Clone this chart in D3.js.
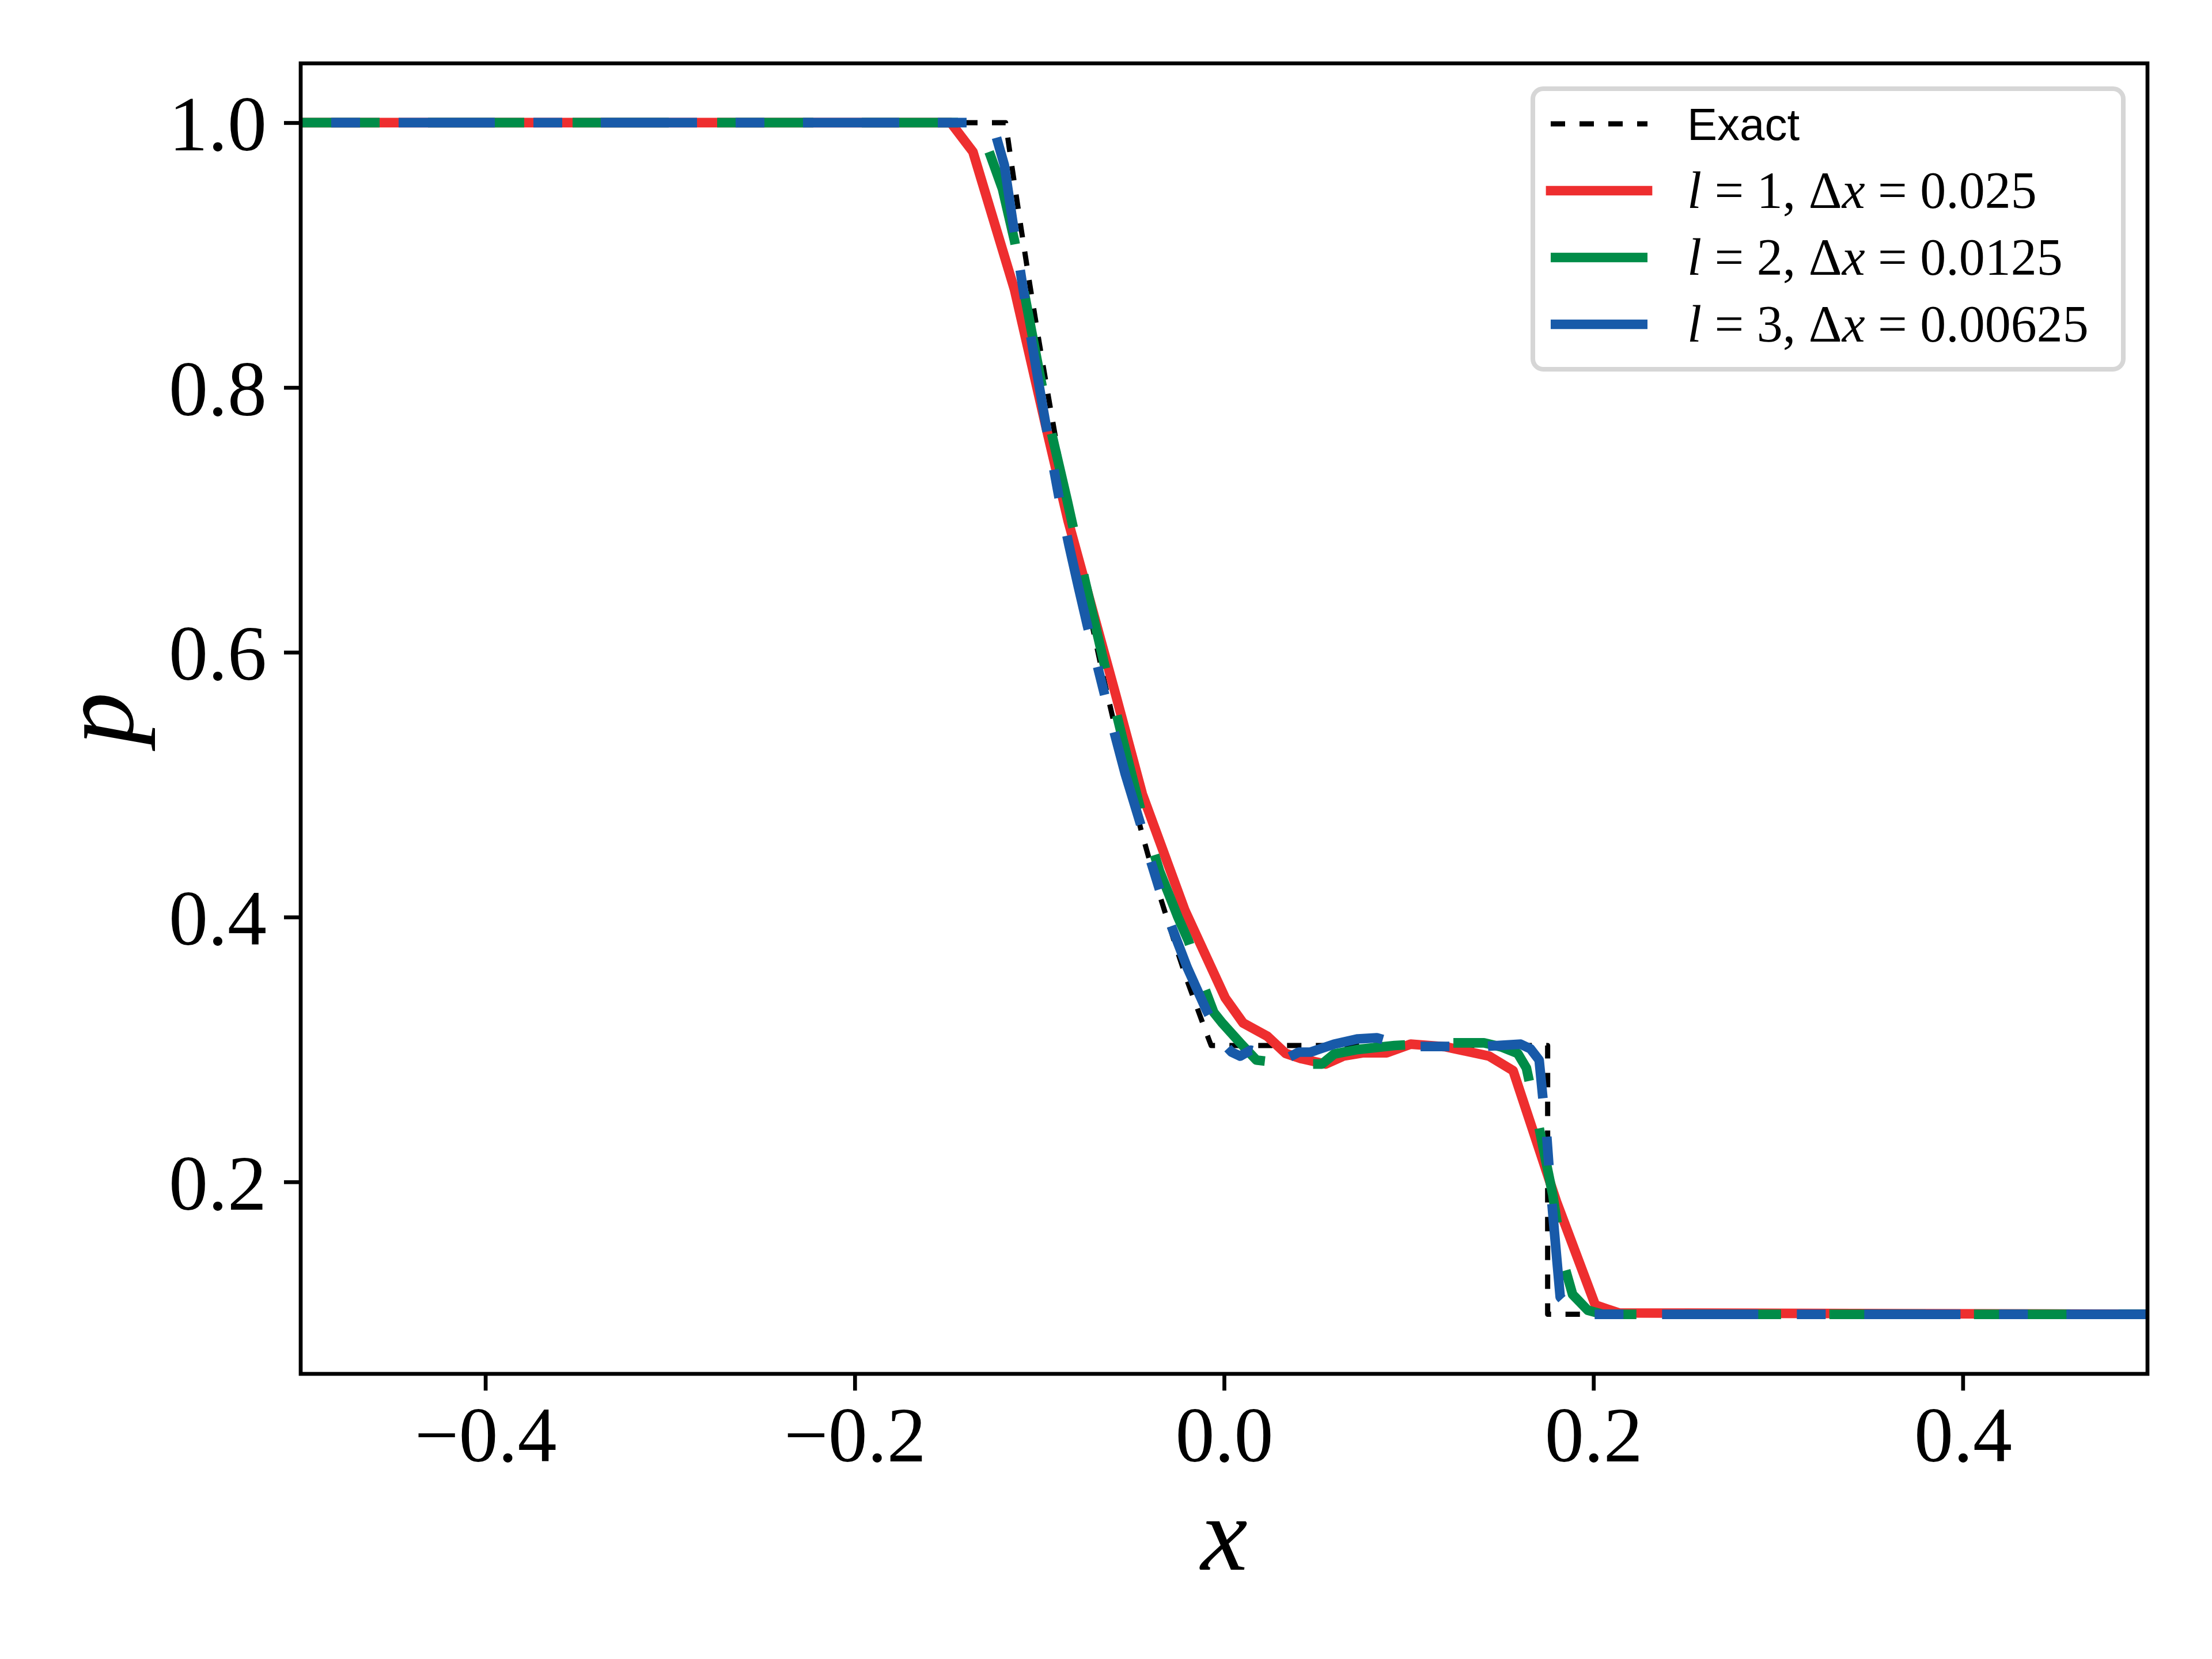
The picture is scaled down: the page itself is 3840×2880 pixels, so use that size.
<!DOCTYPE html>
<html>
<head>
<meta charset="utf-8">
<script src="https://cdn.jsdelivr.net/npm/d3@7"></script>
<style>
  body { margin: 0; background: #fff; }
  svg { display: block; }
  text { white-space: pre; }
</style>
</head>
<body>
<div id="chart"></div>
<script>
// --- data ---
const exactX = [-0.5, -0.1183, -0.115, -0.11, -0.105, -0.10, -0.095, -0.09, -0.085, -0.08, -0.075, -0.07, -0.065, -0.06, -0.055, -0.05, -0.045, -0.04, -0.035, -0.03, -0.025, -0.02, -0.015, -0.01, -0.007, 0.1752, 0.1752, 0.5];
const exactP = [1.0, 1.0, 0.968, 0.921, 0.876, 0.833, 0.792, 0.752, 0.714, 0.678, 0.644, 0.611, 0.579, 0.549, 0.520, 0.493, 0.466, 0.441, 0.417, 0.395, 0.373, 0.352, 0.333, 0.314, 0.303, 0.303, 0.1, 0.1];

const l1X = [-0.5, -0.148, -0.136, -0.1135, -0.0964, -0.0844, -0.0587, -0.0443, -0.0212, 0.0006, 0.0103, 0.0234, 0.0334, 0.042, 0.055, 0.0646, 0.0755, 0.088, 0.101, 0.120, 0.1435, 0.1565, 0.180, 0.201, 0.2137, 0.5];
const l1P = [1.0, 1.0, 0.978, 0.874, 0.770, 0.699, 0.568, 0.493, 0.405, 0.339, 0.320, 0.310, 0.297, 0.293, 0.289, 0.295, 0.2975, 0.2975, 0.304, 0.302, 0.295, 0.284, 0.185, 0.107, 0.101, 0.1];

const l2X = [-0.5, -0.136, -0.128, -0.120, -0.1135, -0.105, -0.095, -0.085, -0.075, -0.065, -0.055, -0.045, -0.035, -0.025, -0.0193, -0.0113, -0.0056, -0.001, 0.0087, 0.0175, 0.030, 0.0434, 0.053, 0.0596, 0.0724, 0.0923, 0.1186, 0.1407, 0.150, 0.159, 0.1637, 0.1694, 0.178, 0.1834, 0.1887, 0.197, 0.205, 0.5];
const l2P = [1.0, 1.0, 0.981, 0.950, 0.911, 0.848, 0.775, 0.715, 0.652, 0.592, 0.535, 0.480, 0.435, 0.400, 0.382, 0.349, 0.328, 0.320, 0.305, 0.292, 0.290, 0.289, 0.289, 0.2966, 0.300, 0.303, 0.305, 0.305, 0.302, 0.297, 0.286, 0.249, 0.19, 0.141, 0.115, 0.103, 0.100, 0.100];

const l3X = [-0.5, -0.128, -0.1235, -0.119, -0.114, -0.109, -0.104, -0.099, -0.094, -0.089, -0.084, -0.079, -0.074, -0.069, -0.064, -0.059, -0.0535, -0.0452, -0.0412, -0.035, -0.0296, -0.02, -0.0097, 0.0, 0.0041, 0.0087, 0.0144, 0.024, 0.0343, 0.0405, 0.0468, 0.0596, 0.0724, 0.0827, 0.095, 0.103, 0.1186, 0.140, 0.1606, 0.1659, 0.1706, 0.1725, 0.1747, 0.1765, 0.179, 0.182, 0.189, 0.197, 0.5];
const l3P = [1.0, 1.0, 0.990, 0.968, 0.921, 0.876, 0.833, 0.792, 0.752, 0.714, 0.681, 0.650, 0.620, 0.592, 0.564, 0.537, 0.508, 0.470, 0.449, 0.421, 0.397, 0.362, 0.330, 0.304, 0.298, 0.295, 0.2995, 0.296, 0.2936, 0.298, 0.298, 0.304, 0.308, 0.3088, 0.304, 0.3023, 0.3023, 0.3023, 0.304, 0.3005, 0.292, 0.265, 0.235, 0.20, 0.16, 0.113, 0.102, 0.100, 0.100];

const xTicks = [-0.4, -0.2, 0.0, 0.2, 0.4];
const yTicks = [0.2, 0.4, 0.6, 0.8, 1.0];
const levels = ['1', '2', '3'];
const spacings = ['0.025', '0.0125', '0.00625'];

// --- layout ---
const W = 3840, H = 2880;
const plot = { left: 522, right: 3728, top: 110, bottom: 2385 };
const serif = "'Liberation Serif', 'Times New Roman', serif";
const sans = "'Liberation Sans', Arial, sans-serif";

const svg = d3.select('#chart').append('svg')
  .attr('width', W).attr('height', H)
  .attr('viewBox', `0 0 ${W} ${H}`);

svg.append('rect').attr('width', W).attr('height', H).attr('fill', '#fff');

const x = d3.scaleLinear().domain([-0.5, 0.5]).range([plot.left, plot.right]);
const y = d3.scaleLinear().domain([0.055, 1.0448]).range([plot.bottom, plot.top]);

svg.append('clipPath').attr('id', 'clip')
  .append('rect')
  .attr('x', plot.left).attr('y', plot.top)
  .attr('width', plot.right - plot.left).attr('height', plot.bottom - plot.top);

const line = d3.line().x(d => x(d[0])).y(d => y(d[1]));

const series = [
  { xs: exactX, ps: exactP, color: '#000000', width: 9, dash: '25 25', offset: 0, cap: 'butt' },
  { xs: l1X, ps: l1P, color: '#ee2e2f', width: 16.7, dash: null, offset: 0, cap: 'square' },
  { xs: l2X, ps: l2P, color: '#008c48', width: 16.7, dash: '167 84', offset: 30, cap: 'butt' },
  { xs: l3X, ps: l3P, color: '#185aa9', width: 16.7, dash: '167 67 50 67', offset: 181, cap: 'butt' },
];

const lines = svg.append('g').attr('clip-path', 'url(#clip)');
series.forEach(s => {
  lines.append('path')
    .datum(d3.zip(s.xs, s.ps))
    .attr('d', line)
    .attr('fill', 'none')
    .attr('stroke', s.color)
    .attr('stroke-width', s.width)
    .attr('stroke-linejoin', 'round')
    .attr('stroke-linecap', s.cap)
    .attr('stroke-dasharray', s.dash)
    .attr('stroke-dashoffset', s.offset);
});

// --- axes ---
const xAxis = svg.append('g')
  .attr('transform', `translate(0,${plot.bottom})`)
  .call(d3.axisBottom(x).tickValues(xTicks).tickFormat(d3.format('.1f'))
    .tickSize(29).tickSizeOuter(0).tickPadding(26));
xAxis.select('.domain').remove();
xAxis.selectAll('.tick line').attr('stroke', '#000').attr('stroke-width', 6.7);
xAxis.selectAll('.tick text')
  .attr('fill', '#000').attr('font-family', serif).attr('font-size', 136);

const yAxis = svg.append('g')
  .attr('transform', `translate(${plot.left},0)`)
  .call(d3.axisLeft(y).tickValues(yTicks).tickFormat(d3.format('.1f'))
    .tickSize(29).tickSizeOuter(0).tickPadding(30));
yAxis.select('.domain').remove();
yAxis.selectAll('.tick line').attr('stroke', '#000').attr('stroke-width', 6.7);
yAxis.selectAll('.tick text')
  .attr('fill', '#000').attr('font-family', serif).attr('font-size', 136)
  .attr('dy', '0.35em');

// frame
svg.append('rect')
  .attr('x', plot.left).attr('y', plot.top)
  .attr('width', plot.right - plot.left).attr('height', plot.bottom - plot.top)
  .attr('fill', 'none').attr('stroke', '#000').attr('stroke-width', 6.7);

// axis labels
svg.append('text')
  .attr('x', (plot.left + plot.right) / 2).attr('y', 2725)
  .attr('text-anchor', 'middle')
  .attr('font-family', serif).attr('font-style', 'italic').attr('font-size', 183)
  .text('x');

svg.append('text')
  .attr('transform', `translate(230,${(plot.top + plot.bottom) / 2}) rotate(-90)`)
  .attr('text-anchor', 'middle')
  .attr('font-family', serif).attr('font-style', 'italic').attr('font-size', 183)
  .text('p');

// --- legend ---
const legend = svg.append('g');
legend.append('rect')
  .attr('x', 2661).attr('y', 154).attr('width', 1025).attr('height', 487)
  .attr('rx', 18).attr('ry', 18)
  .attr('fill', '#fff').attr('fill-opacity', 0.8)
  .attr('stroke', '#d6d6d6').attr('stroke-width', 8);

const rowY = [215, 331, 447, 563];
series.forEach((s, i) => {
  legend.append('line')
    .attr('x1', 2692).attr('x2', 2860)
    .attr('y1', rowY[i]).attr('y2', rowY[i])
    .attr('stroke', s.color)
    .attr('stroke-width', s.width)
    .attr('stroke-linecap', s.cap)
    .attr('stroke-dasharray', i === 0 ? s.dash : null);
});

legend.append('text')
  .attr('x', 2929).attr('y', rowY[0] + 28)
  .attr('font-family', sans).attr('font-size', 78)
  .text('Exact');

levels.forEach((lv, i) => {
  const t = legend.append('text')
    .attr('x', 2929).attr('y', rowY[i + 1] + 30)
    .attr('font-family', serif).attr('font-size', 90);
  t.append('tspan').attr('font-style', 'italic').text('l');
  t.append('tspan').text(` = ${lv}, \u0394`);
  t.append('tspan').attr('font-style', 'italic').text('x');
  t.append('tspan').text(` = ${spacings[i]}`);
});
</script>
</body>
</html>
